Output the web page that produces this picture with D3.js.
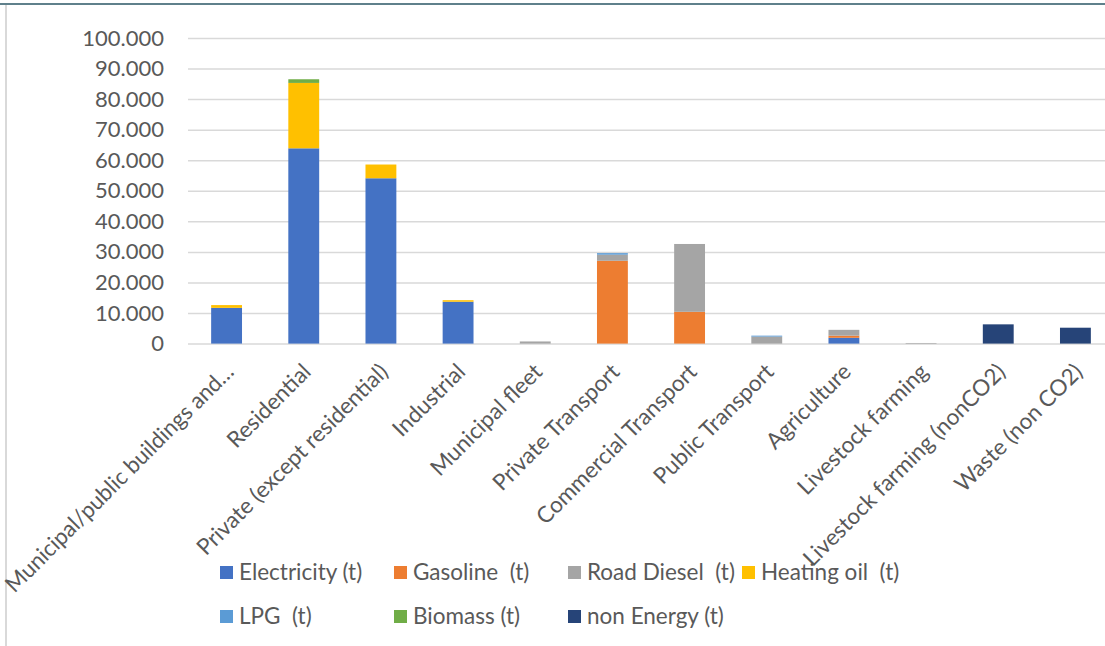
<!DOCTYPE html>
<html>
<head>
<meta charset="utf-8">
<script src="https://cdn.jsdelivr.net/npm/d3@7"></script>
<style>
  html, body { margin: 0; padding: 0; background: #fff; }
  svg { display: block; }
  text { font-family: Lato, "Open Sans", sans-serif; fill: #595959; }
</style>
</head>
<body>
<svg id="chart" width="1105" height="646"></svg>
<script>
// Sectors shown along the x axis
const categories = [
  "Municipal/public buildings and\u2026",
  "Residential",
  "Private (except residential)",
  "Industrial",
  "Municipal fleet",
  "Private Transport",
  "Commercial Transport",
  "Public Transport",
  "Agriculture",
  "Livestock farming",
  "Livestock farming (nonCO2)",
  "Waste (non CO2)"
];

// Emissions per energy carrier, tonnes CO2, one value per sector
const electricity = [11700, 63900, 54100, 13700, 0, 0, 0, 0, 1900, 0, 0, 0];
const gasoline    = [0, 0, 0, 0, 0, 27100, 10400, 0, 700, 0, 0, 0];
const roadDiesel  = [0, 0, 0, 0, 700, 2000, 22200, 2300, 1900, 200, 0, 0];
const heatingOil  = [900, 21400, 4500, 500, 0, 0, 0, 0, 0, 0, 0, 0];
const lpg         = [0, 0, 0, 0, 0, 500, 0, 300, 0, 0, 0, 0];
const biomass     = [0, 1200, 0, 0, 0, 0, 0, 0, 0, 0, 0, 0];
const nonEnergy   = [0, 0, 0, 0, 0, 0, 0, 0, 0, 0, 6300, 5200];

const seriesNames = ["Electricity (t)", "Gasoline  (t)", "Road Diesel  (t)", "Heating oil  (t)",
                     "LPG  (t)", "Biomass (t)", "non Energy (t)"];
const seriesColors = ["#4472C4", "#ED7D31", "#A5A5A5", "#FFC000", "#5B9BD5", "#70AD47", "#264478"];
const seriesValues = [electricity, gasoline, roadDiesel, heatingOil, lpg, biomass, nonEnergy];

const yTicks = [0, 10000, 20000, 30000, 40000, 50000, 60000, 70000, 80000, 90000, 100000];

// Row table for d3.stack
const keys = seriesNames;
const rows = categories.map((c, i) => {
  const r = { category: c };
  keys.forEach((k, j) => { r[k] = seriesValues[j][i]; });
  return r;
});

const svg = d3.select("#chart");

// Chart frame
svg.append("line").attr("x1", 0).attr("x2", 1105).attr("y1", 4).attr("y2", 4)
  .attr("stroke", "#5f808b").attr("stroke-width", 2);
svg.append("line").attr("x1", 6).attr("x2", 6).attr("y1", 5).attr("y2", 646)
  .attr("stroke", "#d9d9d9").attr("stroke-width", 2);

const plot = { left: 188, right: 1114, top: 38, bottom: 343.6 };

const x = d3.scaleBand().domain(categories).range([plot.left, plot.right]).padding(0);
const y = d3.scaleLinear().domain([0, 100000]).range([plot.bottom, plot.top]);
const barW = x.bandwidth() * 0.4;

const de = d3.formatLocale({ decimal: ",", thousands: ".", grouping: [3], currency: ["", "€"] });
const fmt = de.format(",d");

// Horizontal gridlines + y labels
const yAxis = d3.axisLeft(y).tickValues(yTicks).tickFormat(fmt)
  .tickSize(-(plot.right - plot.left)).tickPadding(24);
const gy = svg.append("g").attr("transform", `translate(${plot.left},0)`).call(yAxis);
gy.select(".domain").remove();
gy.selectAll(".tick line").attr("stroke", "#d9d9d9").attr("stroke-width", 1.5);
gy.selectAll(".tick text").attr("fill", "#595959").style("font-size", "22px")
  .style("font-family", "Lato, sans-serif");

// Stacked bars
const stacked = d3.stack().keys(keys)(rows);
svg.append("g").selectAll("g").data(stacked).join("g")
  .attr("fill", (d, i) => seriesColors[i])
  .selectAll("rect").data(d => d).join("rect")
  .attr("x", d => x(d.data.category) + (x.bandwidth() - barW) / 2)
  .attr("width", barW)
  .attr("y", d => y(d[1]))
  .attr("height", d => Math.max(0, y(d[0]) - y(d[1])));

// Category labels, rotated -45°; long labels are squeezed so they stay inside the frame
const labelDx = 3, labelDy = 24, frameLeft = 14;
const xAxis = d3.axisBottom(x).tickSize(0).tickPadding(0);
const gx = svg.append("g").attr("transform", `translate(0,${plot.bottom})`).call(xAxis);
gx.select(".domain").remove();
gx.selectAll(".tick text")
  .attr("text-anchor", "end")
  .attr("y", 0).attr("dy", "0.35em")
  .attr("transform", `translate(${labelDx},${labelDy}) rotate(-45)`)
  .attr("fill", "#595959").style("font-size", "22.5px").style("font-family", "Lato, sans-serif")
  .each(function (d) {
    const len = this.getComputedTextLength();
    const endX = x(d) + x.bandwidth() / 2 + labelDx + 5;
    const maxLen = (endX - frameLeft) / Math.SQRT1_2;
    if (len > maxLen) {
      d3.select(this).attr("textLength", maxLen).attr("lengthAdjust", "spacingAndGlyphs");
    }
  });

// Legend
const legendItems = seriesNames.map((n, i) => ({ name: n, color: seriesColors[i], col: i % 4, row: Math.floor(i / 4) }));
const lg = svg.append("g").selectAll("g").data(legendItems).join("g")
  .attr("transform", d => `translate(${220 + d.col * 174},${566 + d.row * 44})`);
lg.append("rect").attr("width", 13).attr("height", 13).attr("fill", d => d.color);
lg.append("text").attr("x", 19).attr("y", 6.5).attr("dy", "0.35em")
  .style("font-size", "22.5px").style("white-space", "pre").attr("xml:space", "preserve")
  .text(d => d.name);
</script>
</body>
</html>
